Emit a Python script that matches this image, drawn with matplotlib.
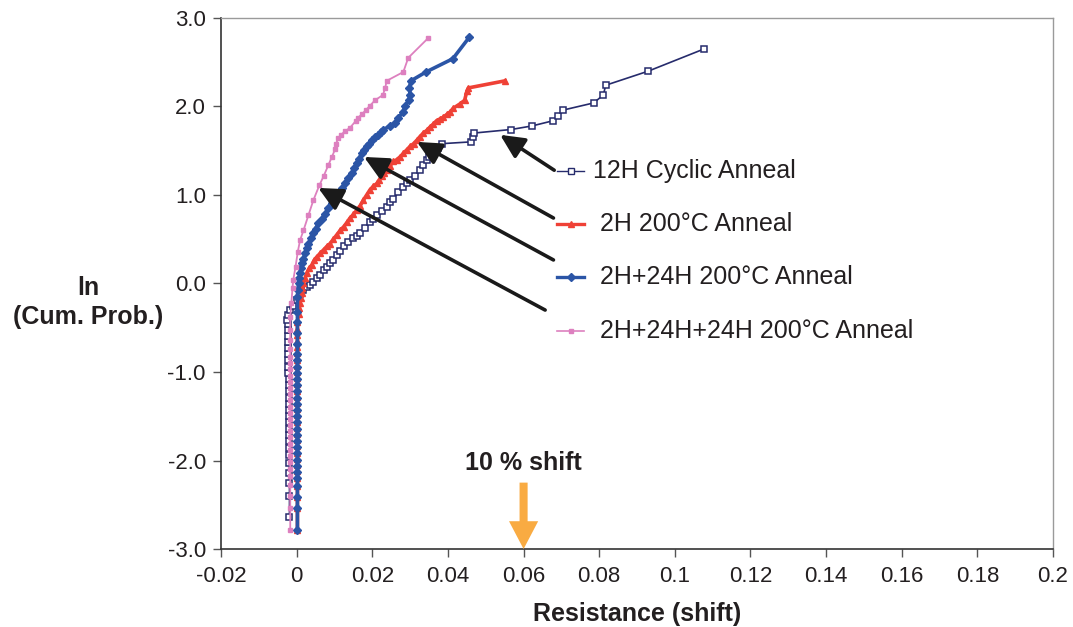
import matplotlib
matplotlib.use("Agg")
import matplotlib.pyplot as plt

plt.rcParams['font.family'] = ['Liberation Sans', 'DejaVu Sans']

# ---------------- data ----------------
series_labels = ["12H Cyclic Anneal", " 2H 200°C Anneal", " 2H+24H 200°C Anneal", " 2H+24H+24H 200°C Anneal"]

# 12H Cyclic Anneal
cyc_x = [-0.0019, -0.0019, -0.0019, -0.0019, -0.0019, -0.0019, -0.0019, -0.0019, -0.0019, -0.0020,
         -0.0020, -0.0020, -0.0020, -0.0020, -0.0021, -0.0021, -0.0021, -0.0021, -0.0022, -0.0022,
         -0.0022, -0.0022, -0.0023, -0.0023, -0.0023, -0.0024, -0.0024, -0.0025,
         -0.0022, -0.0017, -0.0009, 0.0000, 0.0008, 0.0018, 0.0026, 0.0035, 0.0044, 0.0053,
         0.0062, 0.0071, 0.0080, 0.0088, 0.0097, 0.0106, 0.0115, 0.0124, 0.0137, 0.0150,
         0.0159, 0.0168, 0.0181, 0.0194, 0.0203, 0.0212, 0.0225, 0.0238, 0.0247, 0.0256,
         0.0269, 0.0282, 0.0291, 0.0300, 0.0313, 0.0326, 0.0335, 0.0344, 0.0350, 0.0357,
         0.0366, 0.0375, 0.0384, 0.0460, 0.0466, 0.0469, 0.0567, 0.0622, 0.0679, 0.0692,
         0.0705, 0.0785, 0.0811, 0.0817, 0.0930, 0.1077]
cyc_y = [-2.64, -2.40, -2.25, -2.14, -2.03, -1.94, -1.86, -1.78, -1.71, -1.64,
         -1.57, -1.50, -1.43, -1.36, -1.29, -1.22, -1.15, -1.08, -1.01, -0.94,
         -0.87, -0.80, -0.73, -0.66, -0.59, -0.52, -0.46, -0.41,
         -0.36, -0.30, -0.25, -0.19, -0.12, -0.07, -0.04, -0.02, 0.02, 0.06,
         0.10, 0.15, 0.19, 0.23, 0.27, 0.32, 0.37, 0.42, 0.47, 0.51,
         0.54, 0.57, 0.63, 0.70, 0.73, 0.77, 0.82, 0.87, 0.92, 0.96,
         1.03, 1.09, 1.13, 1.17, 1.22, 1.28, 1.34, 1.40, 1.43, 1.45,
         1.49, 1.53, 1.58, 1.60, 1.66, 1.70, 1.74, 1.78, 1.84, 1.89,
         1.96, 2.04, 2.13, 2.24, 2.40, 2.65]

# 2H 200°C Anneal
h2_x = [0.0002] * 30 + [0.0005, 0.0007, 0.0009, 0.0011, 0.0013, 0.0015, 0.0018, 0.0022, 0.0027, 0.0033,
                        0.0040, 0.0046, 0.0053, 0.0062, 0.0071, 0.0080, 0.0088, 0.0097, 0.0106, 0.0115,
                        0.0124, 0.0133, 0.0141, 0.0150, 0.0159, 0.0168, 0.0176, 0.0185, 0.0194, 0.0203,
                        0.0212, 0.0218, 0.0225, 0.0232, 0.0238, 0.0247, 0.0256, 0.0265, 0.0273, 0.0282,
                        0.0291, 0.0300, 0.0309, 0.0318, 0.0326, 0.0335, 0.0344, 0.0353, 0.0361, 0.0370,
                        0.0379, 0.0388, 0.0397, 0.0406, 0.0414, 0.0432, 0.0444, 0.0450, 0.0454, 0.0551]
h2_y = [-2.78, -2.54, -2.41, -2.29, -2.20, -2.12, -2.05, -1.98, -1.91, -1.84,
        -1.77, -1.70, -1.63, -1.56, -1.49, -1.42, -1.35, -1.28, -1.21, -1.14,
        -1.07, -1.00, -0.93, -0.86, -0.79, -0.72, -0.65, -0.58, -0.51, -0.44,
        -0.34, -0.28, -0.22, -0.16, -0.11, -0.05, 0.00, 0.06, 0.12, 0.17,
        0.21, 0.26, 0.30, 0.34, 0.38, 0.42, 0.45, 0.50, 0.55, 0.60,
        0.64, 0.69, 0.74, 0.78, 0.83, 0.88, 0.94, 1.00, 1.06, 1.10,
        1.13, 1.17, 1.21, 1.25, 1.28, 1.33, 1.38, 1.40, 1.43, 1.47,
        1.51, 1.55, 1.58, 1.62, 1.66, 1.70, 1.73, 1.77, 1.80, 1.84,
        1.86, 1.88, 1.91, 1.94, 1.98, 2.03, 2.07, 2.17, 2.21, 2.29]

# 2H+24H 200°C Anneal
h26_x = [0.0002] * 30 + [0.0003, 0.0005, 0.0007, 0.0009, 0.0011, 0.0013, 0.0018, 0.0022, 0.0026, 0.0031,
                         0.0038, 0.0044, 0.0050, 0.0057, 0.0066, 0.0075, 0.0084, 0.0093, 0.0102, 0.0110,
                         0.0119, 0.0128, 0.0137, 0.0146, 0.0152, 0.0159, 0.0165, 0.0172, 0.0179, 0.0185,
                         0.0192, 0.0199, 0.0207, 0.0216, 0.0223, 0.0229, 0.0247, 0.0260, 0.0269, 0.0281,
                         0.0287, 0.0296, 0.0300, 0.0298, 0.0302, 0.0342, 0.0413, 0.0456]
h26_y = [-2.78, -2.54, -2.41, -2.29, -2.20, -2.13, -2.06, -1.99, -1.92, -1.85,
         -1.78, -1.71, -1.64, -1.57, -1.50, -1.43, -1.36, -1.29, -1.22, -1.15,
         -1.08, -1.01, -0.94, -0.87, -0.80, -0.68, -0.56, -0.44, -0.32, -0.15,
         -0.07, 0.00, 0.06, 0.12, 0.17, 0.23, 0.28, 0.34, 0.40, 0.45,
         0.51, 0.57, 0.62, 0.68, 0.73, 0.79, 0.85, 0.91, 0.97, 1.02,
         1.08, 1.13, 1.19, 1.25, 1.30, 1.36, 1.41, 1.47, 1.51, 1.55,
         1.58, 1.62, 1.65, 1.68, 1.71, 1.74, 1.78, 1.81, 1.87, 1.94,
         2.01, 2.07, 2.13, 2.21, 2.29, 2.39, 2.54, 2.78]

# 2H+24H+24H 200°C Anneal
h50_x = [-0.0017] * 28 + [-0.0014, -0.0011, -0.0009, -0.0003, 0.0003, 0.0009, 0.0018, 0.0031, 0.0044, 0.0060,
                          0.0072, 0.0084, 0.0093, 0.0102, 0.0104, 0.0110, 0.0117, 0.0128, 0.0141, 0.0157,
                          0.0161, 0.0172, 0.0183, 0.0194, 0.0207, 0.0228, 0.0234, 0.0238, 0.0282, 0.0295,
                          0.0347]
h50_y = [-2.78, -2.54, -2.40, -2.28, -2.18, -2.10, -2.02, -1.95, -1.88, -1.81,
         -1.74, -1.67, -1.60, -1.53, -1.46, -1.39, -1.32, -1.25, -1.18, -1.11,
         -1.04, -0.97, -0.90, -0.83, -0.74, -0.64, -0.52, -0.38,
         -0.22, -0.05, 0.04, 0.19, 0.36, 0.49, 0.60, 0.77, 0.94, 1.11,
         1.22, 1.34, 1.43, 1.52, 1.58, 1.64, 1.68, 1.72, 1.76, 1.84,
         1.87, 1.91, 1.96, 2.01, 2.07, 2.13, 2.21, 2.29, 2.39, 2.55,
         2.77]

x_ticks = [-0.02, 0, 0.02, 0.04, 0.06, 0.08, 0.1, 0.12, 0.14, 0.16, 0.18, 0.2]
x_tick_labels = ["-0.02", "0", "0.02", "0.04", "0.06", "0.08", "0.1", "0.12", "0.14", "0.16", "0.18", "0.2"]
y_ticks = [-3.0, -2.0, -1.0, 0.0, 1.0, 2.0, 3.0]
y_tick_labels = ["-3.0", "-2.0", "-1.0", "0.0", "1.0", "2.0", "3.0"]

# ---------------- styles ----------------
NAVY = "#262b6c"
RED = "#ef4136"
BLUE = "#2b55a6"
PINK = "#dd80bf"
ORANGE = "#f9ab42"

fig = plt.figure(figsize=(10.73, 6.27), dpi=100)
ax = fig.add_axes([0.206, 0.1244, 0.7754, 0.8469])
ax.set_xlim(-0.02, 0.2)
ax.set_ylim(-3.0, 3.0)

ax.plot(cyc_x, cyc_y, color=NAVY, lw=1.2, marker='s', ms=4.8, mfc='white', mec=NAVY, mew=1.1, zorder=3)
ax.plot(h2_x, h2_y, color=RED, lw=2.6, marker='^', ms=4.8, mfc=RED, mec=RED, zorder=4)
ax.plot(h26_x, h26_y, color=BLUE, lw=2.6, marker='D', ms=4.2, mfc=BLUE, mec=BLUE, zorder=5)
ax.plot(h50_x, h50_y, color=PINK, lw=1.3, marker='s', ms=2.4, mfc=PINK, mec=PINK, zorder=6)

# spines
for s in ['top', 'right']:
    ax.spines[s].set_color('#9a9a9a')
    ax.spines[s].set_linewidth(1.0)
for s in ['left', 'bottom']:
    ax.spines[s].set_color('#333333')
    ax.spines[s].set_linewidth(1.2)

ax.set_xticks(x_ticks)
ax.set_xticklabels(x_tick_labels)
ax.set_yticks(y_ticks)
ax.set_yticklabels(y_tick_labels)
ax.tick_params(axis='both', direction='out', length=6, width=1.0, color='#555555',
               labelsize=16, labelcolor='#231f20')
ax.tick_params(axis='x', pad=6)
ax.tick_params(axis='y', pad=5)

ax.set_xlabel("Resistance (shift)", fontsize=18, fontweight='bold', color='#231f20', labelpad=11)
fig.text(0.082, 0.518, "ln\n(Cum. Prob.)", ha='center', va='center', fontsize=18,
         fontweight='bold', color='#231f20', linespacing=1.25)

# legend drawn by hand
leg_rows = [1.27, 0.672, 0.077, -0.537]
leg_styles = [
    dict(color=NAVY, lw=1.0, marker='s', ms=4.5, mfc='white', mec=NAVY, mew=1.0),
    dict(color=RED, lw=2.4, marker='^', ms=4.5, mfc=RED, mec=RED),
    dict(color=BLUE, lw=2.4, marker='D', ms=4.0, mfc=BLUE, mec=BLUE),
    dict(color=PINK, lw=1.2, marker='s', ms=2.2, mfc=PINK, mec=PINK),
]
for lab, yy, st in zip(series_labels, leg_rows, leg_styles):
    ax.plot([0.0688, 0.0761], [yy, yy], clip_on=False, zorder=7,
            **{k: v for k, v in st.items() if k in ('color', 'lw')})
    ax.plot([0.07245], [yy], clip_on=False, zorder=8, linestyle='none',
            **{k: v for k, v in st.items() if k not in ('lw',)})
    ax.text(0.0783, yy, lab, fontsize=18, color='#231f20', va='center', ha='left')

# black annotation arrows (tail -> tip)
arrows = [((0.0681, 1.28), (0.0538, 1.68)),
          ((0.0679, 0.74), (0.0318, 1.60)),
          ((0.0679, 0.266), (0.0178, 1.43)),
          ((0.0657, -0.30), (0.0057, 1.08))]
for tail, tip in arrows:
    ax.annotate("", xy=tip, xytext=tail,
                arrowprops=dict(arrowstyle="-|>,head_length=1.45,head_width=0.7",
                                color='#1a1a1a', lw=2.6, shrinkA=0, shrinkB=0),
                zorder=9)

# 10 % shift marker
ax.text(0.0599, -2.03, "10 % shift", fontsize=18, fontweight='bold', color='#231f20',
        ha='center', va='center')
ax.annotate("", xy=(0.06, -3.0), xytext=(0.06, -2.25),
            arrowprops=dict(arrowstyle="simple,head_length=2.0,tail_width=0.58,head_width=2.1",
                            color=ORANGE, lw=0, shrinkA=0, shrinkB=0),
            annotation_clip=False, zorder=9)

fig.savefig("out.png", dpi=100)
